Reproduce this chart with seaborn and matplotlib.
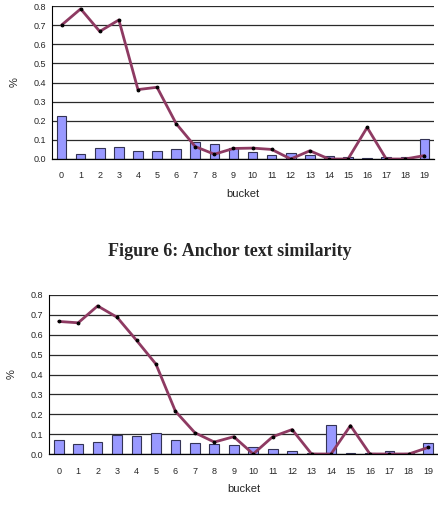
import numpy as np
import pandas as pd
import seaborn as sns
import matplotlib.pyplot as plt

# bucket ids
buckets = list(range(20))

# top chart
top_bars = [0.225, 0.027, 0.057, 0.065, 0.043, 0.040, 0.053, 0.090, 0.080, 0.055,
            0.036, 0.020, 0.030, 0.022, 0.018, 0.010, 0.004, 0.010, 0.008, 0.105]
top_line = [0.700, 0.785, 0.667, 0.727, 0.363, 0.375, 0.185, 0.065, 0.025, 0.055,
            0.057, 0.050, 0.000, 0.043, 0.000, 0.000, 0.165, 0.000, 0.000, 0.018]

# bottom chart
bot_bars = [0.072, 0.050, 0.058, 0.097, 0.090, 0.105, 0.068, 0.054, 0.050, 0.045,
            0.037, 0.024, 0.016, 0.006, 0.145, 0.006, 0.005, 0.014, 0.007, 0.055]
bot_line = [0.667, 0.660, 0.745, 0.688, 0.572, 0.452, 0.215, 0.107, 0.060, 0.087,
            0.000, 0.087, 0.123, 0.000, 0.000, 0.143, 0.000, 0.000, 0.000, 0.033]

yticks = [0.0, 0.1, 0.2, 0.3, 0.4, 0.5, 0.6, 0.7, 0.8]
caption = "Figure 6: Anchor text similarity"

sns.set_style("white")
plt.rcParams['font.family'] = ['Liberation Sans', 'DejaVu Sans']

fig = plt.figure(figsize=(4.38, 5.28), dpi=100)


def draw(ax, bars, line):
    df = pd.DataFrame({"bucket": buckets, "bar": bars, "line": line})
    ax.set_axisbelow(True)
    ax.yaxis.grid(True, color="#2a2a2a", linewidth=0.9)
    sns.barplot(data=df, x="bucket", y="bar", color="#9999FF", edgecolor="#333355",
                linewidth=0.8, width=0.5, saturation=1, ax=ax)
    sns.lineplot(x=np.arange(len(buckets)), y=line, color="#8E3A62", linewidth=2.0,
                 marker="o", markersize=2.0, markerfacecolor="black",
                 markeredgecolor="black", ax=ax)
    ax.set_xlim(-0.5, len(buckets) - 0.5)
    ax.set_ylim(0, 0.8)
    ax.set_yticks(yticks)
    ax.set_yticklabels([f"{v:.1f}" for v in yticks])
    ax.set_xticks(range(len(buckets)))
    ax.set_xticklabels([str(b) for b in buckets])
    ax.set_xticks(np.arange(-0.5, len(buckets), 1), minor=True)
    ax.tick_params(axis="x", which="major", length=0, pad=9, labelsize=6.5)
    ax.tick_params(axis="x", which="minor", length=4, width=0.8, color="black", direction="out")
    ax.tick_params(axis="y", length=0, pad=4, labelsize=6.5)
    for s in ["top", "right"]:
        ax.spines[s].set_visible(False)
    ax.spines["left"].set_color("black")
    ax.spines["left"].set_linewidth(0.8)
    ax.spines["bottom"].set_color("black")
    ax.spines["bottom"].set_linewidth(0.9)
    ax.set_xlabel("bucket", fontsize=8, labelpad=6)
    ax.set_ylabel("%", fontsize=8, labelpad=10)


ax1 = fig.add_axes([52 / 438, 1 - 159 / 528, 382 / 438, 153 / 528])
draw(ax1, top_bars, top_line)

fig.text(0.525, 1 - 251 / 528, caption, ha="center", va="center", fontsize=13,
         fontweight="bold", family=["Liberation Serif", "DejaVu Serif"])

ax2 = fig.add_axes([49 / 438, 1 - 454 / 528, 389 / 438, 159 / 528])
draw(ax2, bot_bars, bot_line)

fig.savefig("out.png", dpi=100)
